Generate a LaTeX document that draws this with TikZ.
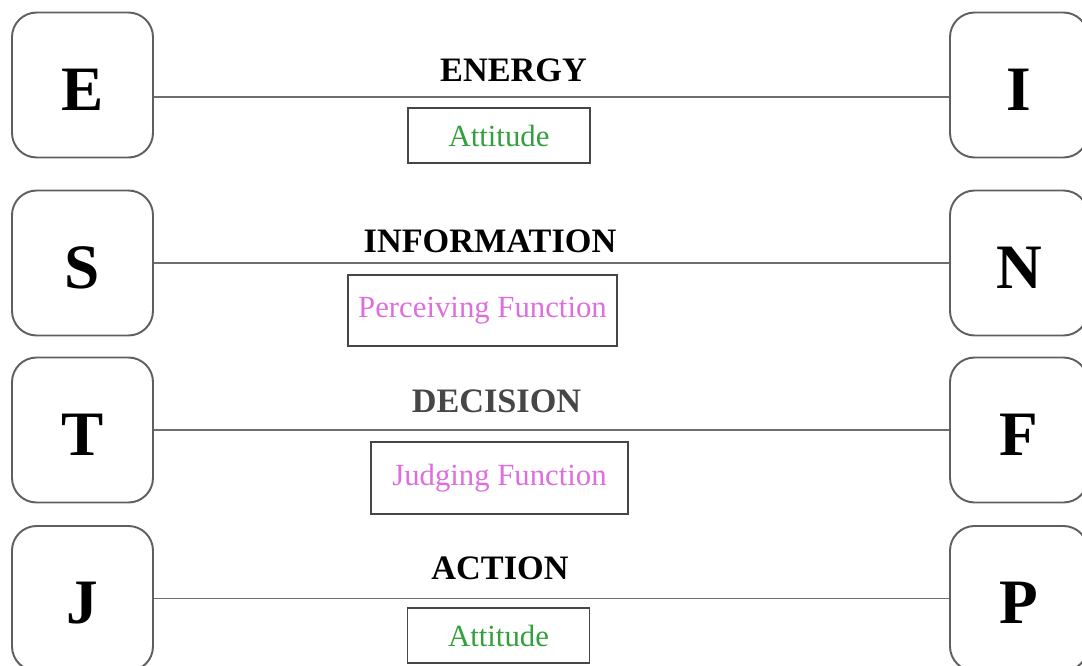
\documentclass[tikz,border=0pt]{standalone}
\usepackage{fontspec}
\setmainfont{Liberation Serif}
\usepackage{tikz}
\definecolor{framegray}{RGB}{95,95,95}
\definecolor{linegray}{RGB}{110,110,110}
\definecolor{attgreen}{RGB}{50,160,60}
\definecolor{funcpink}{RGB}{222,110,222}
\definecolor{decgray}{RGB}{70,70,70}

\begin{document}
\begin{tikzpicture}[
  letter/.style={draw=framegray, line width=1.1pt, rounded corners=14pt, fill=white,
                 minimum width=2.82cm, minimum height=2.9cm,
                 text height=29pt, text depth=0pt,
                 font=\fontsize{36}{40}\selectfont\bfseries},
  dimlabel/.style={font=\fontsize{19.5}{22}\selectfont\bfseries},
  rolebox/.style={draw=decgray, line width=1.1pt, minimum height=1.1cm,
                  font=\fontsize{17.5}{20}\selectfont}]
  \useasboundingbox (0,0) rectangle (21.64,-13.3);
  % left letters
  \node[letter] (E) at (1.65,-1.7) {E};
  \node[letter] (S) at (1.65,-5.26) {S};
  \node[letter] (T) at (1.65,-8.6) {T};
  \node[letter] (J) at (1.65,-11.97) {J};
  % right letters
  \node[letter, minimum width=2.76cm] (I) at (20.38,-1.7) {I};
  \node[letter, minimum width=2.76cm] (N) at (20.38,-5.26) {N};
  \node[letter, minimum width=2.76cm] (F) at (20.38,-8.6) {F};
  \node[letter, minimum width=2.76cm] (P) at (20.38,-11.97) {P};
  % connecting lines
  \draw[linegray, line width=1.1pt] ([yshift=-0.24cm]E.east) -- ([yshift=-0.24cm]I.west);
  \draw[linegray, line width=1.1pt] (S.east) -- (N.west);
  \draw[linegray, line width=1.1pt] (T.east) -- (F.west);
  \draw[linegray, line width=1.1pt] (J.east) -- (P.west);
  % dimension names
  \node[dimlabel] (energy) at (10.27,-1.4) {ENERGY};
  \node[dimlabel] (info) at (9.8,-4.82) {INFORMATION};
  \node[dimlabel, decgray] (decision) at (9.93,-8.02) {DECISION};
  \node[dimlabel] (action) at (10.0,-11.36) {ACTION};
  % function boxes
  \node[rolebox, text=attgreen, minimum width=3.64cm] (att1) at (9.98,-2.71) {Attitude};
  \node[rolebox, text=funcpink, minimum width=5.38cm, minimum height=1.42cm]
    (perc) at (9.65,-6.21) {Perceiving Function};
  \node[rolebox, text=funcpink, minimum width=5.14cm, minimum height=1.44cm]
    (judg) at (9.99,-9.56) {Judging Function};
  \node[rolebox, text=attgreen, minimum width=3.64cm] (att2) at (9.97,-12.71) {Attitude};
\end{tikzpicture}
\end{document}
